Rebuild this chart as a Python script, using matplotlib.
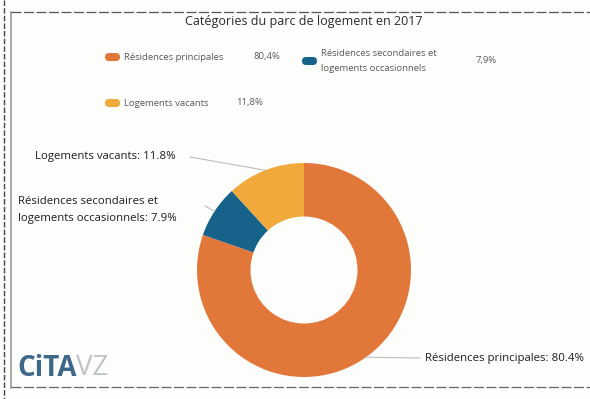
import numpy as np
import matplotlib
matplotlib.use("Agg")
import matplotlib.pyplot as plt
from matplotlib.patches import FancyBboxPatch

plt.rcParams["font.family"] = ["Open Sans", "DejaVu Sans"]

# Housing stock shares, 2017
categories = ["Résidences principales",
              "Résidences secondaires et\nlogements occasionnels",
              "Logements vacants"]
shares = [80.4, 7.9, 11.8]
colors = ["#E2773A", "#16628A", "#F0A93A"]
title = "Catégories du parc de logement en 2017"

W, H = 590, 399
CX, CY, R = 304, 270, 107  # donut centre / radius in pixels

fig = plt.figure(figsize=(W / 100, H / 100), dpi=100)
fig.patch.set_facecolor("#FDFDFC")

# donut
pax = fig.add_axes([(CX - R) / W, (H - CY - R) / H, 2 * R / W, 2 * R / H])
wedges, _ = pax.pie(shares, colors=colors, startangle=90, counterclock=False,
                    radius=1.0, wedgeprops=dict(width=0.5, edgecolor="none"))
pax.set_xlim(-1, 1)
pax.set_ylim(-1, 1)
pax.axis("off")

# overlay in pixel coordinates (y down)
ax = fig.add_axes([0, 0, 1, 1], zorder=3)
ax.set_xlim(0, W)
ax.set_ylim(H, 0)
ax.axis("off")
ax.patch.set_alpha(0)

# page frame
ax.plot([4, 4], [0, 399], color="#444444", lw=1.0, ls=(0, (4, 1.5)))
ax.plot([11, 11], [12, 388], color="#9A9A9A", lw=1.2)
ax.plot([11, 590], [12, 12], color="#555555", lw=0.9, ls=(0, (8, 2)))
ax.plot([11, 590], [387, 387], color="#666666", lw=0.9, ls=(0, (8, 2)))

ax.text(304, 21, title, ha="center", va="center", fontsize=9.0, color="#2A2A2A")

# legend
leg_items = [
    (105, 57, 0, "80,4%", 253),
    (302, 61, 1, "7,9%", 476),
    (105, 103, 2, "11,8%", 236),
]
for x, y, i, pct, px in leg_items:
    ax.add_patch(FancyBboxPatch((x, y - 4), 15, 8, boxstyle="round,pad=0,rounding_size=4",
                                fc=colors[i], ec="none"))
    ax.text(x + 19, y, categories[i], ha="left", va="center", fontsize=6.8,
            color="#5A5A5A", linespacing=1.75)
    ax.text(px, y, pct, ha="left", va="center", fontsize=6.8, color="#5A5A5A")

# data labels with connectors
bounds = np.cumsum([0] + shares) / sum(shares) * 360
mids = (bounds[:-1] + bounds[1:]) / 2
label_pos = [(425, 358), (18, 210), (35, 157)]
label_end = [(420, 358), (205, 206), (190, 157)]
label_txt = [
    f"{categories[0]}: {shares[0]}%",
    f"Résidences secondaires et\nlogements occasionnels: {shares[1]}%",
    f"{categories[2]}: {shares[2]}%",
]
for k in range(3):
    theta = np.deg2rad(90 - mids[k])
    px = CX + R * np.cos(theta)
    py = CY - R * np.sin(theta)
    ex, ey = label_end[k]
    ax.plot([px, ex], [py, ey], color="#BDBDBD", lw=0.8, zorder=1)
    lx, ly = label_pos[k]
    ax.text(lx, ly, label_txt[k], ha="left", va="center", fontsize=8.2,
            color="#1E1E1E", linespacing=1.75)

# logo
cita = ax.text(17, 369, "CiTA", ha="left", va="center", fontsize=20, fontweight="bold",
               color="#3E6889", fontstretch="condensed")
ax.annotate("VZ", xy=(1.0, 0.55), xycoords=cita, ha="left", va="center",
            fontsize=20, color="#BFC4C8")

fig.savefig("out.png", dpi=100)
